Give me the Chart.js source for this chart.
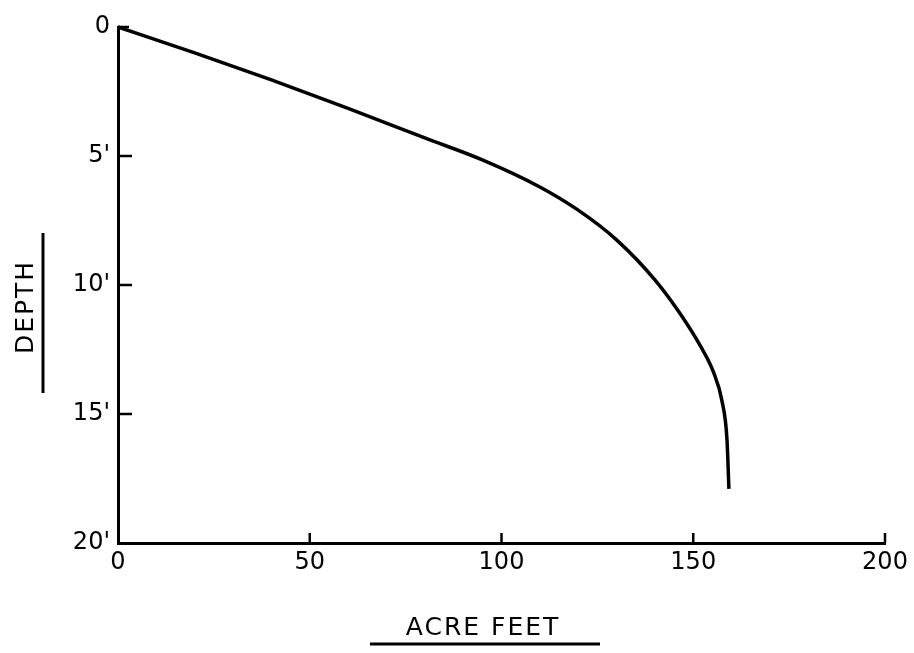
<!DOCTYPE html>
<html>
<head>
<meta charset="utf-8">
<script src="https://cdn.jsdelivr.net/npm/chart.js@4.4.0/dist/chart.umd.min.js"></script>
<style>
  html, body { margin: 0; padding: 0; background: #fff; }
</style>
</head>
<body>
<canvas id="depthChart" width="914" height="653"></canvas>
<script>
// storage curve: depth vs acre feet
const acreFeet  = [0, 20, 40, 60, 80, 95, 110, 120, 130, 140, 147, 152, 155.2, 157.5, 158.8, 159.3];
const depthFeet = [0, 1.0, 2.05, 3.15, 4.3, 5.15, 6.2, 7.1, 8.25, 9.8, 11.2, 12.4, 13.35, 14.5, 16.0, 17.9];
const xTicks = [0, 50, 100, 150, 200];
const yTicks = [0, 5, 10, 15, 20];
const yTickLabels = ['0', "5'", "10'", "15'", "20'"];

const FONT = 'DejaVu Sans, sans-serif';

// little inward tick marks like the hand drawn original
const inwardTicks = {
    id: 'inwardTicks',
    afterDatasetsDraw(chart) {
        const { ctx, chartArea, scales } = chart;
        ctx.save();
        ctx.strokeStyle = '#000';
        ctx.lineWidth = 2.5;
        ctx.beginPath();
        xTicks.forEach(v => {
            if (v === 0) return;
            const px = scales.x.getPixelForValue(v);
            ctx.moveTo(px, chartArea.bottom);
            ctx.lineTo(px, chartArea.bottom - 10);
        });
        yTicks.forEach(v => {
            if (v === 20) return;
            const py = scales.y.getPixelForValue(v);
            ctx.moveTo(chartArea.left, py);
            ctx.lineTo(chartArea.left + (v === 0 ? 11 : 14), py);
        });
        ctx.stroke();
        ctx.restore();
    }
};

// underlined axis titles
const axisTitles = {
    id: 'axisTitles',
    afterDraw(chart) {
        const { ctx, chartArea } = chart;
        const w = chartArea.right - chartArea.left;
        ctx.save();
        ctx.fillStyle = '#000';
        ctx.strokeStyle = '#000';
        ctx.font = '25px ' + FONT;
        ctx.textAlign = 'center';
        ctx.textBaseline = 'middle';
        if (ctx.letterSpacing !== undefined) ctx.letterSpacing = '2px';

        const xc = chartArea.left + w * 0.476;
        ctx.fillText('ACRE FEET', xc, 628);
        ctx.lineWidth = 3;
        ctx.beginPath();
        ctx.moveTo(370, 644);
        ctx.lineTo(600, 644);
        ctx.stroke();

        ctx.translate(26, 307);
        ctx.rotate(-Math.PI / 2);
        ctx.fillText('DEPTH', 0, 0);
        ctx.restore();

        ctx.save();
        ctx.lineWidth = 3;
        ctx.beginPath();
        ctx.moveTo(43, 233);
        ctx.lineTo(43, 393);
        ctx.stroke();
        ctx.restore();
    }
};

new Chart(document.getElementById('depthChart').getContext('2d'), {
    type: 'scatter',
    data: {
        datasets: [{
            label: 'Depth',
            data: acreFeet.map((x, i) => ({ x: x, y: depthFeet[i] })),
            showLine: true,
            borderColor: '#000',
            borderWidth: 3.5,
            pointRadius: 0,
            cubicInterpolationMode: 'monotone',
            clip: false
        }]
    },
    options: {
        responsive: false,
        animation: false,
        devicePixelRatio: 1,
        layout: { padding: { top: 27, right: 29, left: 0, bottom: 0 } },
        scales: {
            x: {
                type: 'linear',
                min: 0,
                max: 200,
                afterBuildTicks: s => { s.ticks = xTicks.map(v => ({ value: v })); },
                afterFit: s => { s.height = 110; },
                grid: { drawOnChartArea: false, drawTicks: false },
                border: { color: '#000', width: 3 },
                ticks: { color: '#000', padding: 5, font: { family: FONT, size: 24 } }
            },
            y: {
                type: 'linear',
                min: 0,
                max: 20,
                reverse: true,
                afterBuildTicks: s => { s.ticks = yTicks.map(v => ({ value: v })); },
                afterFit: s => { s.width = 118; },
                grid: { drawOnChartArea: false, drawTicks: false },
                border: { color: '#000', width: 3 },
                ticks: {
                    color: '#000',
                    padding: 8,
                    font: { family: FONT, size: 24 },
                    callback: (v, i) => yTickLabels[i]
                }
            }
        },
        plugins: {
            legend: { display: false },
            tooltip: { enabled: false }
        }
    },
    plugins: [inwardTicks, axisTitles]
});
</script>
</body>
</html>
